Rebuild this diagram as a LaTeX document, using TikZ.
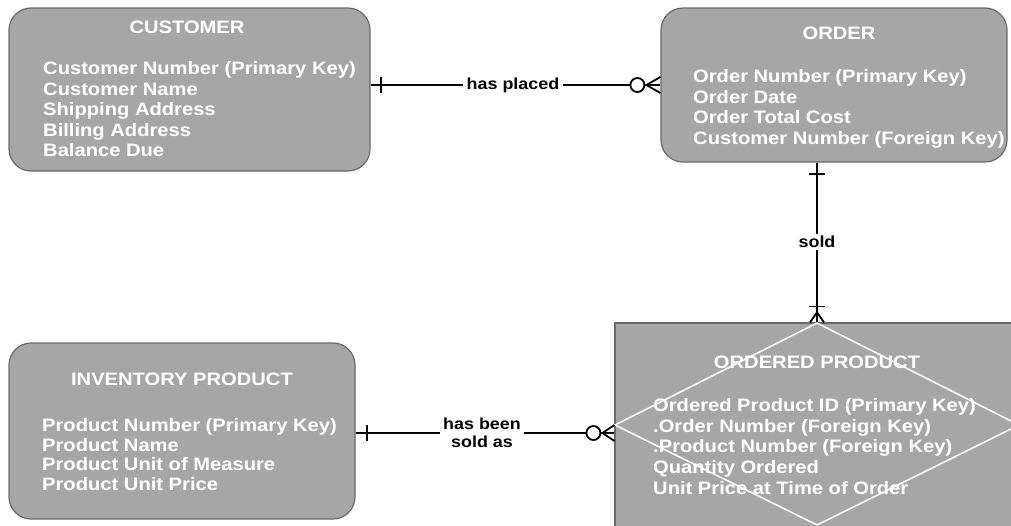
\documentclass[tikz,border=0pt]{standalone}
\usepackage{fontspec}
\setmainfont{Liberation Sans}
\newfontfamily\erfont[FakeStretch=1.12]{Liberation Sans}
\usetikzlibrary{calc}
\definecolor{boxfill}{HTML}{A6A6A6}
\definecolor{boxline}{HTML}{6A6A6A}
\begin{document}
\begin{tikzpicture}[x=1pt,y=-1pt]
\tikzset{
  entity/.style={draw=boxline, fill=boxfill, line width=1.2pt, rounded corners=22pt, inner sep=0pt},
  assoc/.style={draw=boxline, fill=boxfill, line width=1.2pt, inner sep=0pt},
  ttl/.style={font=\erfont\bfseries\fontsize{18}{20}\selectfont, text=white, inner sep=0pt, anchor=base},
  attr/.style={font=\erfont\bfseries\fontsize{18}{20}\selectfont, text=white, inner sep=0pt, anchor=base west},
  rel/.style={font=\erfont\bfseries\fontsize{16}{18}\selectfont, fill=white, text=black, inner xsep=3pt, inner ysep=2pt, align=center},
  conn/.style={line width=1.8pt, black},
  tickmark/.style={line width=1.8pt, black},
}
\useasboundingbox (0,0) rectangle (1011,525);
% entities
\node[entity, minimum width=361pt, minimum height=163pt] (cust) at (189.5,89.5) {};
\node[entity, minimum width=346pt, minimum height=154pt] (order) at (834,85) {};
\node[entity, minimum width=346pt, minimum height=176pt] (inv) at (182,431) {};
\node[assoc, minimum width=410pt, minimum height=212pt] (op) at (820,429) {};
% diamond of the associative entity
\draw[white, line width=1.5pt] (817,323) -- (1019,425) -- (817,525) -- (615,425) -- cycle;
% titles
\node[ttl] (custT) at (187,33.5) {CUSTOMER};
\node[ttl] (orderT) at (839,39.5) {ORDER};
\node[ttl] (invT) at (182,385.5) {INVENTORY PRODUCT};
\node[ttl] (opT) at (817,368.5) {ORDERED PRODUCT};
% attributes
\foreach \t [count=\i] in {Customer Number (Primary Key), Customer Name, Shipping Address, Billing Address, Balance Due}
  \node[attr] (ca\i) at (43,{74.5+20.5*(\i-1)}) {\t};
\foreach \t [count=\i] in {Order Number (Primary Key), Order Date, Order Total Cost, Customer Number (Foreign Key)}
  \node[attr] (oa\i) at (693,{82.5+20.5*(\i-1)}) {\t};
\foreach \t [count=\i] in {Product Number (Primary Key), Product Name, Product Unit of Measure, Product Unit Price}
  \node[attr] (ia\i) at (42,{431.5+19.6*(\i-1)}) {\t};
\foreach \t [count=\i] in {Ordered Product ID (Primary Key), .Order Number (Foreign Key), .Product Number (Foreign Key), Quantity Ordered, Unit Price at Time of Order}
  \node[attr] (pa\i) at (653,{411.5+20.7*(\i-1)}) {\t};
% relationship labels
\node[rel] (hp) at (513,85) {has placed};
\node[rel] (sd) at (817,242) {sold};
\node[rel] (hb) at (482,433) {has been\\sold as};
% has placed
\coordinate (a1) at (cust.east |- hp);
\coordinate (a2) at (order.west |- hp);
\draw[conn] (a1) -- (hp) -- (a2);
\draw[tickmark] ($(a1)+(10,-8)$) -- ($(a1)+(10,8)$);
\draw[tickmark] ($(a2)+(0,-8)$) -- ($(a2)+(-14,0)$) -- ($(a2)+(0,8)$);
\draw[tickmark, fill=white] ($(a2)+(-23,0)$) circle[radius=7pt];
% sold
\coordinate (b1) at (order.south -| sd);
\coordinate (b2) at (op.north -| sd);
\draw[conn] (b1) -- (sd) -- (b2);
\draw[tickmark] ($(b1)+(-8,11)$) -- ($(b1)+(8,11)$);
\draw[tickmark] ($(b2)+(-8,-16)$) -- ($(b2)+(8,-16)$);
\draw[tickmark] ($(b2)+(-7,0)$) -- ($(b2)+(0,-10)$) -- ($(b2)+(7,0)$);
% has been sold as
\coordinate (c1) at (inv.east |- hb);
\coordinate (c2) at (op.west |- hb);
\draw[conn] (c1) -- (hb) -- (c2);
\draw[tickmark] ($(c1)+(11,-8)$) -- ($(c1)+(11,8)$);
\draw[tickmark] ($(c2)+(0,-8)$) -- ($(c2)+(-12,0)$) -- ($(c2)+(0,8)$);
\draw[tickmark, fill=white] ($(c2)+(-21,0)$) circle[radius=7pt];
\end{tikzpicture}
\end{document}
